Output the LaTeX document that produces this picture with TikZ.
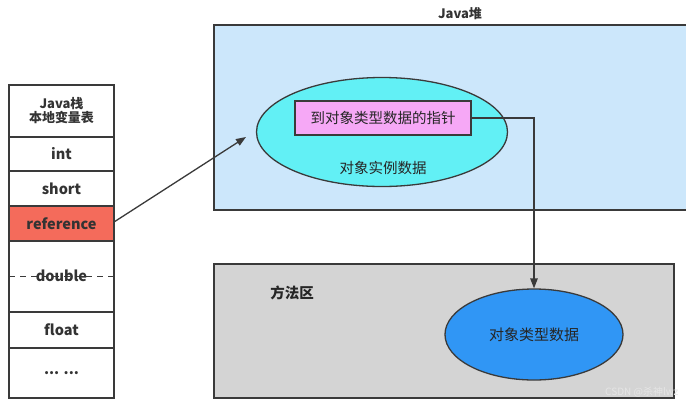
\documentclass[tikz,border=0pt]{standalone}
\usepackage{fontspec}
\setmainfont{Noto Sans CJK SC}
\usetikzlibrary{arrows.meta,shapes.geometric}
\definecolor{heapfill}{HTML}{CCE7FB}
\definecolor{instfill}{HTML}{62F0F5}
\definecolor{ptrfill}{HTML}{F6A8F6}
\definecolor{reffill}{HTML}{F46B5B}
\definecolor{methfill}{HTML}{D4D4D4}
\definecolor{typefill}{HTML}{3096F5}
\definecolor{linegray}{HTML}{3A3A3A}
\begin{document}
\begin{tikzpicture}[x=1pt,y=-1pt,
  cell/.style={draw=linegray,line width=1.2pt,minimum width=105pt,inner sep=0pt,outer sep=0pt,font=\fontsize{14.5}{16}\selectfont\bfseries,text=black!80},
  lbl/.style={font=\fontsize{14.5}{17}\selectfont,text=black!85},
  conn/.style={draw=linegray,line width=1.3pt},
  tip/.style={-{Triangle[length=10pt,width=7.5pt]}}]
\useasboundingbox (0,0) rectangle (686,405);
\fill[white] (0,0) rectangle (686,405);
% stack
\node[cell,minimum height=52pt,anchor=north west,align=center,font=\fontsize{13}{15}\selectfont\bfseries] (hdr) at (9,85) {Java栈\\[-1pt]本地变量表};
\node[cell,minimum height=34pt,anchor=north] (int) at (hdr.south) {int};
\node[cell,minimum height=35pt,anchor=north] (short) at (int.south) {short};
\node[cell,minimum height=35pt,anchor=north,fill=reffill] (ref) at (short.south) {reference};
\node[cell,minimum height=71pt,anchor=north] (dbl) at (ref.south) {};
\node[cell,minimum height=36pt,anchor=north] (flt) at (dbl.south) {float};
\node[cell,minimum height=50pt,anchor=north] (dots) at (flt.south) {... ...};
\draw[linegray,line width=1.2pt,dash pattern=on 6pt off 5pt] (dbl.west) -- (dbl.east);
\node[font=\fontsize{14.5}{16}\selectfont\bfseries,text=black!80] (dbltext) at ([yshift=1pt]dbl.center) {double};
% heap
\fill[heapfill] (214,25) rectangle (686,210);
\draw[linegray,line width=1.5pt] (687,25) -- (214,25) -- (214,210) -- (687,210);
\node[font=\fontsize{13}{15}\selectfont\bfseries,text=black!80] (heapttl) at (460,14) {Java堆};
\coordinate (heapin) at (246,137);
\node[draw=linegray,line width=1.3pt,fill=instfill,ellipse,minimum width=251pt,minimum height=109pt] (inst) at (382,132) {};
\node[lbl] (insttext) at (383,168) {对象实例数据};
\node[draw=linegray,line width=1.3pt,fill=ptrfill,minimum width=176pt,minimum height=34pt,lbl] (ptr) at (383,118) {到对象类型数据的指针};
% method area
\node[draw=linegray,line width=1.5pt,fill=methfill,minimum width=460pt,minimum height=134pt,anchor=north west] (meth) at (213,263) {};
\node[lbl,font=\fontsize{14.5}{17}\selectfont\bfseries] (methttl) at (292,293) {方法区};
\node[draw=linegray,line width=1.3pt,fill=typefill,ellipse,minimum width=178pt,minimum height=91pt,lbl,font=\fontsize{15}{17}\selectfont] (type) at (534,334.5) {对象类型数据};
% connectors
\coordinate (refout) at (114,222);
\draw[conn,tip] (refout) -- (heapin);
\draw[conn,tip] (ptr.east) -| (type.north);
% watermark
\node[font=\fontsize{10}{12}\selectfont,text=white!80!gray,anchor=east] (wm) at (682,392) {CSDN @杀神lwz};
\end{tikzpicture}
\end{document}
